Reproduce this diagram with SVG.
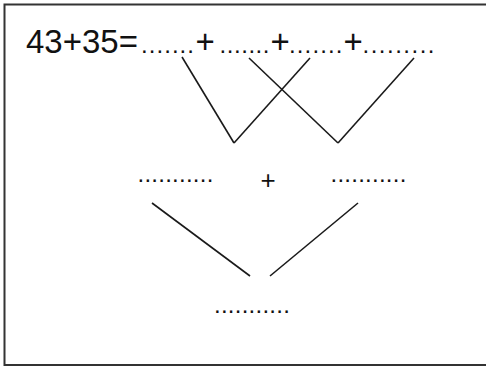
<svg xmlns="http://www.w3.org/2000/svg" width="486" height="372" viewBox="0 0 486 372">
<style>
.t{font-family:"Liberation Sans",Arial,sans-serif;fill:#111}
.big{font-size:33px}
.dots{font-size:24px;letter-spacing:0.25px}
.tdots{font-size:24px}
.mid{font-size:26px}
.ln{stroke:#1a1a1a;stroke-width:1.6;fill:none;stroke-linecap:butt}
</style>
<rect x="0" y="0" width="486" height="372" fill="#fff"/>
<rect x="4.5" y="4.5" width="490" height="360.5" fill="none" stroke="#333" stroke-width="2"/>
<g id="equation">
<text class="t big" x="26" y="53">43+35=</text>
<text class="t tdots" x="141" y="53" textLength="53" lengthAdjust="spacing">.......</text>
<text class="t big" x="195.5" y="53">+</text>
<text class="t tdots" x="219.5" y="53" textLength="50" lengthAdjust="spacing">.......</text>
<text class="t big" x="270.5" y="53">+</text>
<text class="t tdots" x="289" y="53" textLength="53.5" lengthAdjust="spacing">.......</text>
<text class="t big" x="343.5" y="53">+</text>
<text class="t tdots" x="362.5" y="53" textLength="72" lengthAdjust="spacing">.........</text>
</g>
<g id="left-sum">
<text class="t dots" x="137.5" y="182">...........</text>
</g>
<g id="plus">
<text class="t mid" x="260.4" y="189">+</text>
</g>
<g id="right-sum">
<text class="t dots" x="330.5" y="182">...........</text>
</g>
<g id="result">
<text class="t dots" x="214" y="312.5">...........</text>
</g>
<g id="connectors">
<line class="ln" x1="182" y1="57" x2="234" y2="143"/>
<line class="ln" x1="310" y1="58" x2="234" y2="143"/>
<line class="ln" x1="249" y1="58" x2="338" y2="143"/>
<line class="ln" x1="414" y1="58" x2="338" y2="143"/>
<line class="ln" x1="152" y1="203" x2="250" y2="276"/>
<line class="ln" x1="358" y1="203" x2="270" y2="276"/>
</g>
</svg>
